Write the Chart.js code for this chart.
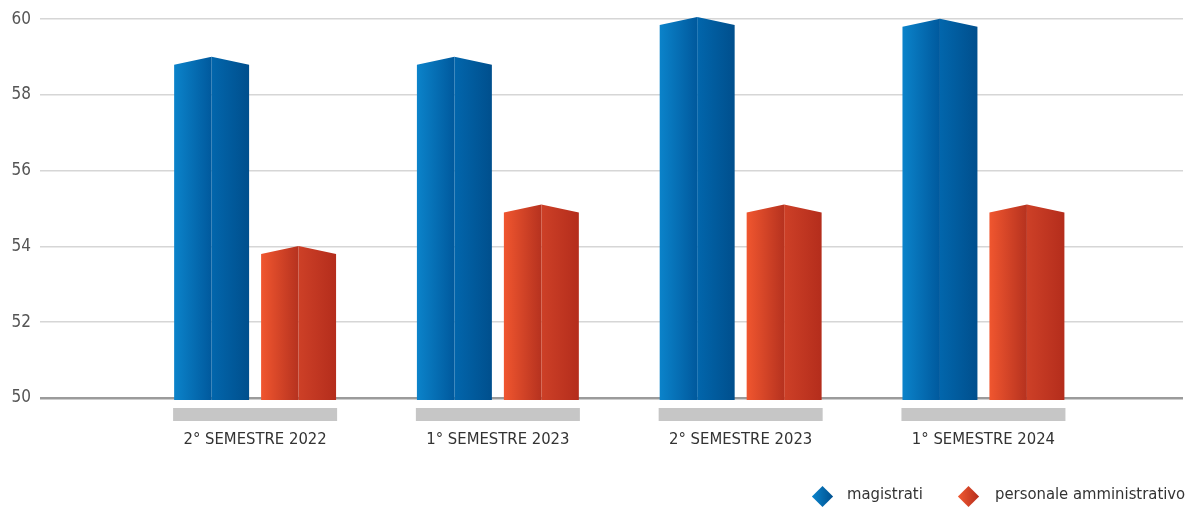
<!DOCTYPE html>
<html>
<head>
<meta charset="utf-8">
<script src="https://cdn.jsdelivr.net/npm/chart.js@4.4.1/dist/chart.umd.min.js"></script>
<style>
  body { margin: 0; background: #fff; }
  #wrap { position: relative; width: 1196px; height: 509px; }
  .legend { position: absolute; top: 484px; font-family: 'DejaVu Sans Condensed', sans-serif; font-size: 16.5px; color: #333; white-space: nowrap; }
  .legend span.dot { position: absolute; top: 5px; width: 15px; height: 15px; transform: rotate(45deg); }
  .legend span.txt { position: absolute; top: 0; }
</style>
</head>
<body>
<div id="wrap">
  <canvas id="chart" width="1196" height="509"></canvas>
  <div class="legend" style="left:815px">
    <span class="dot" style="left:0; background: linear-gradient(225deg, #00508f, #0a84cc);"></span>
    <span class="txt" style="left:32px">magistrati</span>
  </div>
  <div class="legend" style="left:961px">
    <span class="dot" style="left:0; background: linear-gradient(225deg, #b52d1c, #f15a32);"></span>
    <span class="txt" style="left:34px">personale amministrativo</span>
  </div>
</div>
<script>
const categories = ['2° SEMESTRE 2022', '1° SEMESTRE 2023', '2° SEMESTRE 2023', '1° SEMESTRE 2024'];
const magistrati = [58.8, 58.8, 59.85, 59.8];
const personale = [53.8, 54.9, 54.9, 54.9];
const yTicks = [50, 52, 54, 56, 58, 60];

const FONT = "'DejaVu Sans Condensed', sans-serif";

// colour pairs for the two faces of each prism (left face, right face)
const faces = [
  { left: ['#0b83ca', '#00599d'], right: ['#0266ac', '#004f8d'] },
  { left: ['#f0562f', '#b6321f'], right: ['#cd4027', '#b42d1c'] }
];

// bars are drawn as little prisms with a ridge in the middle
const prismBars = {
  id: 'prismBars',
  beforeDatasetsDraw(chart) {
    const ctx = chart.ctx;
    const base = chart.chartArea.bottom + 2;
    chart.data.datasets.forEach((ds, di) => {
      const meta = chart.getDatasetMeta(di);
      meta.data.forEach(bar => {
        const half = bar.width / 2;
        let l = bar.x - half, r = bar.x + half;
        if (di === 0) r -= 6; else l += 6;
        const c = (l + r) / 2;
        const top = bar.y, peak = top - 8;

        let g = ctx.createLinearGradient(l, 0, c, 0);
        g.addColorStop(0, faces[di].left[0]);
        g.addColorStop(1, faces[di].left[1]);
        ctx.fillStyle = g;
        ctx.beginPath();
        ctx.moveTo(l, base); ctx.lineTo(l, top); ctx.lineTo(c, peak); ctx.lineTo(c, base);
        ctx.closePath(); ctx.fill();

        g = ctx.createLinearGradient(c, 0, r, 0);
        g.addColorStop(0, faces[di].right[0]);
        g.addColorStop(1, faces[di].right[1]);
        ctx.fillStyle = g;
        ctx.beginPath();
        ctx.moveTo(c, base); ctx.lineTo(c, peak); ctx.lineTo(r, top); ctx.lineTo(r, base);
        ctx.closePath(); ctx.fill();
      });
    });
    return false;
  }
};

// grey strip under each group of bars
const groupStrip = {
  id: 'groupStrip',
  afterDraw(chart) {
    const ctx = chart.ctx, xs = chart.scales.x;
    ctx.save();
    ctx.fillStyle = '#c6c6c6';
    categories.forEach((c, i) => {
      const x = xs.getPixelForValue(i);
      ctx.fillRect(x - 82, 408, 164, 13);
    });
    ctx.restore();
  }
};

new Chart(document.getElementById('chart'), {
  type: 'bar',
  data: {
    datasets: [
      { label: 'magistrati', data: magistrati.map((v, i) => ({ x: i, y: v })) },
      { label: 'personale amministrativo', data: personale.map((v, i) => ({ x: i, y: v })) }
    ]
  },
  options: {
    responsive: false,
    animation: false,
    categoryPercentage: 0.667,
    barPercentage: 1,
    layout: { padding: { top: 19, right: 13, bottom: 0, left: 0 } },
    plugins: { legend: { display: false }, tooltip: { enabled: false } },
    scales: {
      x: {
        type: 'linear',
        min: -0.886,
        max: 3.822,
        offset: false,
        afterBuildTicks(scale) { scale.ticks = categories.map((c, i) => ({ value: i })); },
        afterFit(scale) { scale.height = 111; },
        grid: { display: false, drawTicks: false },
        border: { display: false },
        ticks: {
          autoSkip: false, maxRotation: 0, padding: 32,
          color: '#333', font: { family: FONT, size: 16.5 },
          callback: v => categories[v]
        }
      },
      y: {
        min: 50,
        max: 60,
        afterBuildTicks(scale) { scale.ticks = yTicks.map(v => ({ value: v })); },
        afterFit(scale) { scale.width = 40; },
        border: { display: false },
        grid: {
          drawTicks: false,
          color: c => c.tick && c.tick.value === 50 ? '#9b9b9b' : '#d6d6d6',
          lineWidth: c => c.tick && c.tick.value === 50 ? 2.6 : 1.6
        },
        ticks: { padding: 9, color: '#555', font: { family: FONT, size: 17 } }
      }
    }
  },
  plugins: [prismBars, groupStrip]
});
</script>
</body>
</html>
